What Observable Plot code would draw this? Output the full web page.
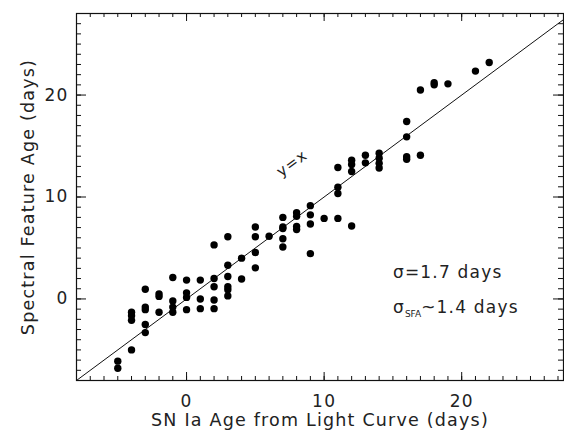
<!DOCTYPE html>
<html><head><meta charset="utf-8">
<script src="https://cdn.jsdelivr.net/npm/d3@7"></script>
<script src="https://cdn.jsdelivr.net/npm/@observablehq/plot@0.6"></script>
<style>
body{margin:0;background:#fff;}
</style>
</head><body>
<div id="chart"></div>
<script>
// light-curve age (days), one entry per supernova spectrum
const lcAge = [
  -5,-5,
  -4,-4,-4,-4,
  -3,-3,-3,-3,-3,
  -2,-2,-2,
  -1,-1,-1,-1,
  0,0,0,0,
  1,1,1,
  2,2,2,2,2,
  3,3,3,3,3,3,
  4,4,
  5,5,5,5,
  6,
  7,7,7,7,7,
  8,8,8,8,
  9,9,9,9,
  10,
  11,11,11,11,
  12,12,12,12,
  13,13,
  14,14,14,14,
  16,16,16,16,
  17,17,
  18,18,
  19,
  21,
  22
];
// spectral feature age (days)
const sfaAge = [
  -6.1,-6.8,
  -5.0,-1.3,-1.65,-2.1,
  0.95,-0.8,-1.05,-2.5,-3.3,
  0.5,0.25,-1.3,
  2.1,-0.2,-0.8,-1.3,
  1.85,0.6,0.15,-1.05,
  1.85,0.0,-0.95,
  5.3,2.0,1.2,-0.1,-0.95,
  6.1,3.3,2.2,1.2,0.9,0.3,
  4.0,1.95,
  7.05,6.1,4.55,3.05,
  6.15,
  8.0,7.05,6.9,5.9,5.1,
  8.45,8.1,7.1,6.8,
  9.15,8.25,7.35,4.45,
  7.9,
  12.9,10.95,10.35,7.9,
  13.6,13.2,12.5,7.15,
  14.1,13.35,
  14.3,13.8,13.3,12.85,
  17.4,15.9,13.95,13.7,
  20.5,14.1,
  21.2,21.0,
  21.1,
  22.35,
  23.2
];
const xDomain = [-8, 27.4];
const yDomain = [-8, 28];
const majorTicks = [0, 10, 20];
const minorTicks = d3.range(-8, 28, 1);
const xTitle = "SN Ia Age from Light Curve (days)";
const yTitle = "Spectral Feature Age (days)";
const lineLabel = "y=x";
const sigmaLabel = "σ=1.7 days";
const sigmaSfaLabel = ["σ", "SFA", "~1.4 days"];
const sigmaPos = {x: 15.0, y: 2.6};
const sigmaSfaPos = {x: 15.0, y: -0.85};
const lineLabelPos = {x: 7.67, y: 13.3};

const points = lcAge.map((x, i) => ({x, y: sfaAge[i]}));
const identity = xDomain.map(v => ({x: v, y: v}));

const W = 564, H = 438, mL = 76, mR = 1, mT = 13, mB = 58;
const fw = W - mL - mR, fh = H - mT - mB;
const minorLen = 4, majorLen = 8;

const chart = Plot.plot({
  width: W,
  height: H,
  marginLeft: mL,
  marginRight: mR,
  marginTop: mT,
  marginBottom: mB,
  style: {fontFamily: "'DejaVu Sans', sans-serif", fontSize: "17px", color: "#222", background: "#fff", letterSpacing: "1.2px"},
  x: {domain: xDomain, axis: null},
  y: {domain: yDomain, axis: null},
  marks: [
    // inward ticks on all four sides
    Plot.tickX(minorTicks, {x: d => d, insetTop: fh - minorLen, stroke: "#111"}),
    Plot.tickX(majorTicks, {x: d => d, insetTop: fh - majorLen, stroke: "#111"}),
    Plot.tickX(minorTicks, {x: d => d, insetBottom: fh - minorLen, stroke: "#111"}),
    Plot.tickX(majorTicks, {x: d => d, insetBottom: fh - majorLen, stroke: "#111"}),
    Plot.tickY(minorTicks, {y: d => d, insetRight: fw - minorLen - 1, stroke: "#111"}),
    Plot.tickY(majorTicks, {y: d => d, insetRight: fw - majorLen - 2, stroke: "#111"}),
    Plot.tickY(minorTicks, {y: d => d, insetLeft: fw - minorLen - 1, stroke: "#111"}),
    Plot.tickY(majorTicks, {y: d => d, insetLeft: fw - majorLen - 2, stroke: "#111"}),
    // tick labels
    Plot.axisX({anchor: "bottom", ticks: majorTicks, tickSize: 0, tickPadding: 14, tickFormat: d => String(d), label: null, fontSize: 17}),
    Plot.axisY({anchor: "left", ticks: majorTicks, tickSize: 0, tickPadding: 8, tickFormat: d => String(d), label: null, fontSize: 17}),
    Plot.frame({stroke: "#111", strokeWidth: 1.2}),
    Plot.line(identity, {x: "x", y: "y", stroke: "#111", strokeWidth: 1}),
    Plot.dot(points, {x: "x", y: "y", r: 3.7, fill: "#000", stroke: "none"}),
    Plot.text([lineLabel], {x: lineLabelPos.x, y: lineLabelPos.y, text: d => d, rotate: -36.5, fontSize: 15}),
    Plot.text([sigmaLabel], {x: sigmaPos.x, y: sigmaPos.y, text: d => d, textAnchor: "start", fontSize: 17}),
    Plot.text([sigmaSfaLabel.join("")], {x: sigmaSfaPos.x, y: sigmaSfaPos.y, text: d => d, textAnchor: "start", fontSize: 17, className: "sfa"}),
    Plot.text([xTitle], {frameAnchor: "bottom", dy: 45, text: d => d, fontSize: 17.5}),
    Plot.text([yTitle], {frameAnchor: "left", dx: -48, rotate: -90, textAnchor: "middle", text: d => d, fontSize: 17.5})
  ]
});

// subscript for σ_SFA
d3.select(chart).selectAll(".sfa text").each(function() {
  const t = d3.select(this);
  t.text(null);
  t.append("tspan").text(sigmaSfaLabel[0]);
  t.append("tspan").attr("font-size", 9).attr("dy", 4).attr("letter-spacing", 0).text(sigmaSfaLabel[1]);
  t.append("tspan").attr("dy", -4).text(sigmaSfaLabel[2]);
});

document.getElementById("chart").appendChild(chart);
</script>
</body></html>
